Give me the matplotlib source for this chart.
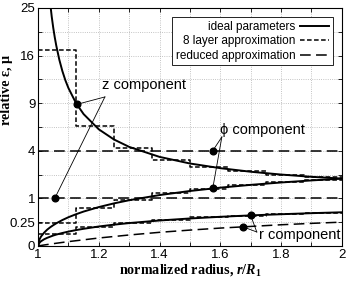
import numpy as np
import matplotlib
matplotlib.use("Agg")
import matplotlib.pyplot as plt
from matplotlib.ticker import FixedLocator, FixedFormatter

plt.rcParams['font.family'] = ['Liberation Sans', 'DejaVu Sans']
plt.rcParams['mathtext.fontset'] = 'custom'
plt.rcParams['mathtext.rm'] = 'Liberation Serif:bold'
plt.rcParams['mathtext.it'] = 'Liberation Serif:italic:bold'
plt.rcParams['mathtext.bf'] = 'Liberation Serif:bold'

# ---- data ----
r_ideal = [1.0, 1.005, 1.01, 1.02, 1.03, 1.04, 1.05, 1.06, 1.08, 1.1, 1.125, 1.15,
           1.2, 1.25, 1.3, 1.4, 1.5, 1.6, 1.7, 1.8, 1.9, 2.0]
r_dec = [1.04, 1.045, 1.05, 1.055, 1.06, 1.07, 1.08, 1.09, 1.1, 1.125, 1.15, 1.2,
         1.25, 1.3, 1.4, 1.5, 1.6, 1.7, 1.8, 1.9, 2.0]
ideal_dec = [26.0, 23.2, 21.0, 19.2, 17.7, 15.3, 13.5, 12.1, 11.0, 9.0, 7.67, 6.0,
             5.0, 4.33, 3.5, 3.0, 2.67, 2.43, 2.25, 2.11, 2.0]
ideal_mid = [0.0, 0.02, 0.04, 0.078, 0.117, 0.154, 0.19, 0.226, 0.296, 0.364, 0.444,
             0.522, 0.667, 0.8, 0.923, 1.143, 1.333, 1.5, 1.647, 1.778, 1.895, 2.0]
ideal_low = [0.0, 0.005, 0.0099, 0.0196, 0.029, 0.038, 0.048, 0.057, 0.074, 0.091,
             0.111, 0.13, 0.167, 0.2, 0.231, 0.286, 0.333, 0.375, 0.412, 0.444, 0.474, 0.5]

layer_edges = [1.0, 1.125, 1.25, 1.375, 1.5, 1.625, 1.75, 1.875, 2.0]
layer_dec = [17.0, 6.33, 4.2, 3.29, 2.78, 2.45, 2.23, 2.07]
layer_mid = [0.235, 0.632, 0.952, 1.217, 1.44, 1.63, 1.79, 1.935]
layer_low = [0.0588, 0.158, 0.238, 0.304, 0.36, 0.407, 0.448, 0.484]

r_red = [1.0, 2.0]
red_top = [4.0, 4.0]
red_one = [1.0, 1.0]
r_red_low = [1.0, 1.02, 1.05, 1.1, 1.2, 1.3, 1.4, 1.5, 1.6, 1.7, 1.8, 1.9, 2.0]
red_low = [0.0, 0.0004, 0.0023, 0.0083, 0.0278, 0.053, 0.082, 0.111, 0.141, 0.168,
           0.198, 0.225, 0.25]

y_ticks = [0, 0.25, 1, 2.25, 4, 6.25, 9, 12.25, 16, 20.25, 25]
y_labels = ['0', '0.25', '1', '', '4', '', '9', '', '16', '', '25']
x_ticks = [1.0, 1.1, 1.2, 1.3, 1.4, 1.5, 1.6, 1.7, 1.8, 1.9, 2.0]
x_labels = ['1', '', '1.2', '', '1.4', '', '1.6', '', '1.8', '', '2']

# annotation dots
z_dots = ([1.128, 1.055], [8.85, 1.0])
phi_dots = ([1.575, 1.575], [4.0, 1.46])
rc_dots = ([1.70, 1.674], [0.412, 0.162])

fig = plt.figure(figsize=(3.46, 2.84), dpi=100)
ax = fig.add_axes([0.11, 0.134, 0.878, 0.838])
ax.set_yscale('function', functions=(lambda v: np.sqrt(np.clip(v, 0, None)),
                                     lambda v: np.square(v)))

ls_layer = (0, (3, 1.6))
ls_red = (0, (7, 3.5))

def stairs(vals):
    return list(vals) + [vals[-1]]

l1, = ax.plot(r_dec, ideal_dec, color='black', lw=1.4, label='ideal parameters')
ax.plot(r_ideal, ideal_mid, color='black', lw=1.4)
ax.plot(r_ideal, ideal_low, color='black', lw=1.4)
l2, = ax.step(layer_edges, stairs(layer_dec), where='post', color='black', lw=1.1,
              linestyle=ls_layer, label='8 layer approximation')
ax.step(layer_edges, stairs(layer_mid), where='post', color='black', lw=1.1, linestyle=ls_layer)
ax.step(layer_edges, stairs(layer_low), where='post', color='black', lw=1.1, linestyle=ls_layer)
l3, = ax.plot(r_red, red_top, color='black', lw=1.1, linestyle=ls_red, label='reduced approximation')
ax.plot(r_red, red_one, color='black', lw=1.1, linestyle=ls_red)
ax.plot(r_red_low, red_low, color='black', lw=1.1, linestyle=ls_red)

# annotations
def annot(dots, conv, text, tpos):
    for x, y in zip(*dots):
        ax.plot([conv[0], x], [conv[1], y], color='black', lw=0.6)
    ax.plot(dots[0], dots[1], 'o', color='black', ms=4.8)
    ax.text(tpos[0], tpos[1], text, fontsize=10.5, ha='left', va='baseline')

annot(z_dots, (1.22, 9.8), 'z component', (1.212, 10.9))
annot(phi_dots, (1.605, 5.24), 'ϕ component', (1.600, 5.5))
annot(rc_dots, (1.72, 0.086), 'r component', (1.727, 0.02))

ax.set_xlim(1, 2)
ax.set_ylim(0, 25)
ax.xaxis.set_major_locator(FixedLocator(x_ticks))
ax.xaxis.set_major_formatter(FixedFormatter(x_labels))
ax.yaxis.set_major_locator(FixedLocator(y_ticks))
ax.yaxis.set_major_formatter(FixedFormatter(y_labels))
ax.yaxis.set_minor_locator(FixedLocator([]))
ax.tick_params(direction='in', length=3, width=0.6, labelsize=9.5, top=True, right=True, pad=2)
ax.grid(True, color='#b0b0b0', linestyle=':', lw=0.6)
for s in ax.spines.values():
    s.set_linewidth(0.8)

ax.set_xlabel(r'normalized radius, $r/R_1$', fontsize=10.2, fontfamily='Liberation Serif',
              fontweight='bold', labelpad=1)
ax.set_ylabel('relative ε, μ', fontsize=10.2, fontfamily='Liberation Serif',
              fontweight='bold')
ax.yaxis.set_label_coords(-0.082, 0.655)

leg = ax.legend(handles=[l1, l2, l3], loc='upper right', markerfirst=False, fontsize=8.5,
                frameon=True, fancybox=False, edgecolor='black', framealpha=1,
                handlelength=2.5, borderpad=0.3, labelspacing=0.2, handletextpad=0.4,
                bbox_to_anchor=(0.99, 0.985))
leg.get_frame().set_linewidth(0.6)

fig.savefig('out.png', dpi=100)
